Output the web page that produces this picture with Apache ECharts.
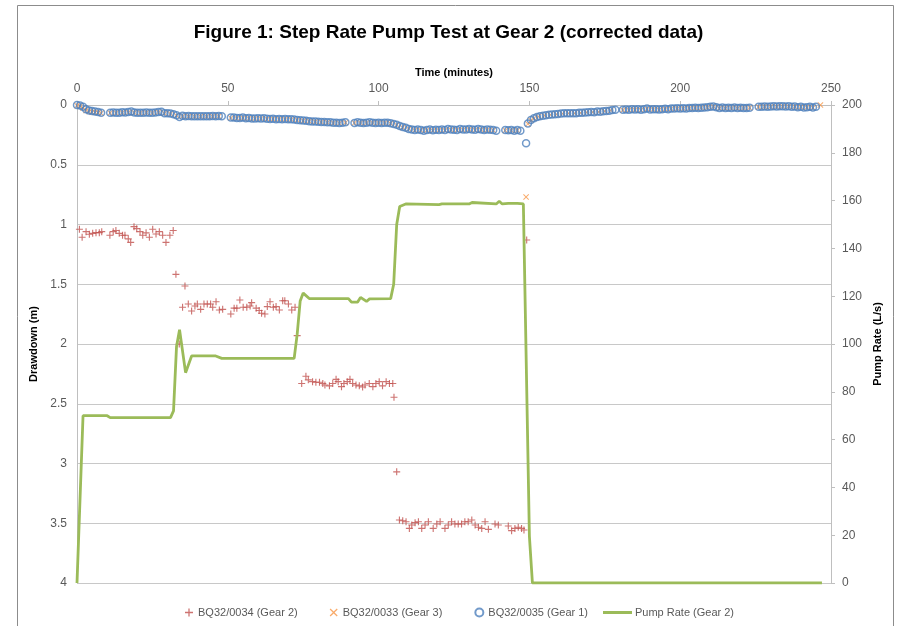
<!DOCTYPE html>
<html><head><meta charset="utf-8">
<script src="https://cdn.jsdelivr.net/npm/echarts@6/dist/echarts.min.js"></script>
<style>html,body{margin:0;padding:0;background:#fff}#c{width:897px;height:626px}</style>
</head><body><div id="c"></div>
<script>
// ---- data ----
const titleText = 'Figure 1: Step Rate Pump Test at Gear 2 (corrected data)';
const seriesNames = ['BQ32/0034 (Gear 2)', 'BQ32/0033 (Gear 3)', 'BQ32/0035 (Gear 1)', 'Pump Rate (Gear 2)'];

// BQ32/0034 (Gear 2) drawdown (m)
const gear2Time = [0.8,1.7,3,4.1,5.2,6.3,7.4,8.2,10.9,12,12.9,14,15.1,15.9,17,17.8,18.9,19.8,20.9,21.8,22.9,24,25.1,26.2,27.3,28.4,29.5,30.8,31.9,
  32.8,33.9,35.8,
  35,36.9,38,39.1,39.9,41,42.1,43.2,44.3,45,46.1,47.2,48.3,51,52.1,53,54,55.1,56.3,57.4,57.9,59.4,60.4,61.2,62.3,63.1,64,65.1,66,67.1,68.2,68.9,70.1,71.2,72.3,
  73,
  74.5,75.9,76.7,78.1,79.2,80.4,81.5,82.2,83.7,84.8,85.9,86.6,87.7,88.5,89.6,90.5,91.4,92.5,93.6,94.7,95.5,96.9,98.1,99.1,100.2,101.3,102.5,103.6,104.7,
  105.1,106,
  106.9,108,109.1,110.2,111,112.1,113.2,114.3,115.4,116.5,118.1,119.3,120.4,122,123.1,124.2,125.3,126.4,127.5,128.6,129.7,130.9,132,133.1,134.2,135.3,136.4,138.6,139.7,143,144.1,145.2,146.3,147.4,148.2,
  149.1];
const gear2Draw = [1.04,1.107,1.06,1.082,1.074,1.068,1.068,1.06,1.09,1.06,1.05,1.074,1.09,1.09,1.12,1.15,1.018,1.035,1.06,1.09,1.07,1.107,1.04,1.08,1.06,1.09,1.15,1.09,1.05,
  1.417,2.0,1.515,
  1.693,1.665,1.724,1.682,1.665,1.71,1.665,1.665,1.665,1.693,1.646,1.715,1.71,1.749,1.70,1.70,1.632,1.693,1.693,1.682,1.654,1.70,1.72,1.743,1.749,1.687,1.646,1.693,1.687,1.715,1.638,1.638,1.665,1.715,1.693,
  1.93,
  2.33,2.27,2.30,2.315,2.32,2.32,2.33,2.343,2.35,2.33,2.296,2.315,2.357,2.33,2.315,2.296,2.33,2.343,2.35,2.36,2.343,2.33,2.357,2.33,2.315,2.35,2.315,2.33,2.33,
  2.446,3.07,
  3.473,3.479,3.487,3.543,3.515,3.495,3.487,3.543,3.515,3.487,3.543,3.506,3.487,3.543,3.515,3.487,3.506,3.506,3.506,3.487,3.487,3.473,3.515,3.534,3.543,3.487,3.551,3.506,3.515,3.523,3.562,3.543,3.534,3.543,3.556,
  1.13];

// BQ32/0035 (Gear 1) drawdown (m)
const gear1Time = [0,1,2,3,4,5,6,7,8,
  11,12,13,14,15,16,17,18,19,20,21,22,23,24,25,26,27,28,29,30,31,32,33,34,35,36,37,38,39,40,41,42,43,44,45,46,47,48,
  51,52,53,54,55,56,57,58,59,60,61,62,63,64,65,66,67,68,69,70,71,72,73,74,75,76,77,78,79,80,81,82,83,84,85,86,87,88,89,
  92,93,94,95,96,97,98,99,100,101,102,103,104,105,106,107,108,109,110,111,112,113,114,115,116,117,118,119,120,121,122,123,124,125,126,127,128,129,130,131,132,133,134,135,136,137,138,139,
  142,143,144,145,146,147,148.9,
  149.5,150.5,151.5,152.5,153.5,154.5,155.5,156.5,157.5,158.5,159.5,160.5,161.5,162.5,163.5,164.5,165.5,166.5,167.5,168.5,169.5,170.5,171.5,172.5,173.5,174.5,175.5,176.5,177.5,178.5,
  181,182,183,184,185,186,187,188,189,190,191,192,193,194,195,196,197,198,199,200,201,202,203,204,205,206,207,208,209,210,211,212,213,214,215,216,217,218,219,220,221,222,223,
  226,227,228,229,230,231,232,233,234,235,236,237,238,239,240,241,242,243,244,245];
const gear1Draw = [0,0.005,0.015,0.035,0.045,0.05,0.055,0.058,0.065,
  0.064,0.062,0.064,0.064,0.06,0.062,0.058,0.055,0.062,0.064,0.064,0.064,0.062,0.064,0.064,0.062,0.058,0.056,0.068,0.07,0.072,0.078,0.085,0.1,0.09,0.095,0.092,0.094,0.095,0.095,0.094,0.095,0.095,0.094,0.093,0.094,0.092,0.094,
  0.105,0.105,0.108,0.108,0.105,0.11,0.108,0.112,0.112,0.11,0.112,0.11,0.115,0.118,0.115,0.12,0.118,0.12,0.118,0.12,0.12,0.122,0.125,0.128,0.13,0.132,0.135,0.138,0.138,0.14,0.142,0.142,0.145,0.145,0.148,0.148,0.15,0.148,0.145,
  0.15,0.145,0.148,0.15,0.148,0.145,0.148,0.15,0.148,0.15,0.148,0.148,0.152,0.158,0.165,0.175,0.185,0.19,0.2,0.205,0.21,0.205,0.21,0.215,0.21,0.205,0.212,0.208,0.21,0.205,0.21,0.2,0.205,0.208,0.21,0.2,0.205,0.205,0.2,0.205,0.208,0.2,0.205,0.21,0.205,0.208,0.21,0.215,
  0.21,0.212,0.21,0.215,0.21,0.215,0.32,
  0.155,0.125,0.11,0.1,0.095,0.09,0.085,0.082,0.08,0.078,0.075,0.072,0.07,0.07,0.068,0.07,0.068,0.065,0.065,0.062,0.06,0.058,0.06,0.055,0.056,0.052,0.05,0.048,0.042,0.04,
  0.04,0.038,0.04,0.035,0.038,0.035,0.04,0.035,0.03,0.038,0.035,0.035,0.038,0.035,0.032,0.035,0.03,0.03,0.028,0.03,0.028,0.03,0.025,0.025,0.022,0.025,0.022,0.02,0.018,0.015,0.012,0.018,0.025,0.02,0.025,0.022,0.025,0.02,0.025,0.022,0.025,0.025,0.022,
  0.015,0.015,0.012,0.015,0.012,0.01,0.012,0.01,0.01,0.012,0.01,0.015,0.012,0.018,0.015,0.02,0.018,0.015,0.02,0.015];

// BQ32/0033 (Gear 3) drawdown (m)
const gear3Time = [0,1,2,3,4,5,6,7,8,
  11,13,15,17,19,21,23,25,27,29,31,33,35,37,39,41,43,45,47,
  51,53,55,57,59,61,63,65,67,69,71,73,75,77,79,81,83,85,87,89,
  92,94,96,98,100,102,104,106,108,110,112,114,116,118,120,122,124,126,128,130,132,134,136,138,
  142,144,146,148.9,
  149.5,150.5,151.5,153,155,157,159,161,163,165,167,169,171,173,175,177,
  181,183,185,187,189,191,193,195,197,199,201,203,205,207,209,211,213,215,217,219,221,223,
  226,228,230,232,234,236,238,240,242,244,246.5];
const gear3Draw = [0.005,0.01,0.025,0.045,0.055,0.06,0.062,0.065,0.068,
  0.066,0.066,0.064,0.062,0.064,0.066,0.064,0.066,0.06,0.07,0.075,0.088,0.095,0.096,0.097,0.096,0.097,0.096,0.095,
  0.108,0.11,0.108,0.112,0.114,0.114,0.118,0.118,0.12,0.12,0.122,0.126,0.132,0.136,0.14,0.143,0.146,0.15,0.152,0.148,
  0.15,0.15,0.15,0.15,0.15,0.15,0.155,0.168,0.188,0.2,0.212,0.212,0.212,0.214,0.212,0.212,0.208,0.21,0.208,0.205,0.21,0.207,0.209,0.212,
  0.213,0.213,0.213,0.77,
  0.158,0.128,0.112,0.098,0.088,0.082,0.078,0.072,0.07,0.07,0.066,0.062,0.06,0.058,0.052,0.045,
  0.042,0.042,0.04,0.042,0.035,0.037,0.04,0.035,0.032,0.03,0.03,0.028,0.025,0.024,0.02,0.014,0.027,0.027,0.026,0.027,0.026,0.024,
  0.017,0.014,0.014,0.014,0.012,0.012,0.014,0.017,0.02,0.022,0.0];

// Pump Rate (Gear 2), L/s
const pumpTime = [0,2,10,11,31,32,33,34,36,38,46,48,72,73,74,75,77,90,91,93,94,96,97,104,105,106,107,109,120,121,130,131,139,140,141,143,146,148,150,151,247];
const pumpRate = [0,70,70,69.2,69.2,72,99,106,88,95,95,94,94,104,118,121.3,119,119,117.5,117.5,119.5,117.8,118.9,119,125,150,157.5,158.6,158.3,158.6,158.6,159.2,158.6,159.7,158.6,158.8,158.8,158.6,19.5,0,0];

// axis ticks
const timeMin = 0, timeMax = 250, timeStep = 50;
const drawMin = 0, drawMax = 4, drawStep = 0.5;
const rateMin = 0, rateMax = 200, rateStep = 20;

// ---- chart ----
const zip = (a, b) => a.map((v, i) => [v, b[i]]);
const plusPath = 'path://M4.2,0H5.8V4.2H10V5.8H5.8V10H4.2V5.8H0V4.2H4.2Z';
const crossPath = 'path://M0,1.1L1.1,0L5,3.9L8.9,0L10,1.1L6.1,5L10,8.9L8.9,10L5,6.1L1.1,10L0,8.9L3.9,5Z';
const txt = '#595959', gridC = '#C8C8C8', axisC = '#BFBFBF';
const FONT = '"Liberation Sans", Arial, sans-serif';

const chart = echarts.init(document.getElementById('c'), null, {renderer: 'canvas'});
chart.setOption({
  animation: false,
  backgroundColor: '#fff',
  textStyle: {fontFamily: FONT},
  title: {
    text: titleText, left: 'center', top: 18,
    textStyle: {fontFamily: FONT, fontWeight: 'bold', fontSize: 19, color: '#000'}
  },
  graphic: [{
    type: 'rect', silent: true, z: -10,
    shape: {x: 17.5, y: 5.5, width: 876, height: 660},
    style: {fill: 'none', stroke: '#8C8C8C', lineWidth: 1}
  }],
  grid: {left: 77, right: 66, top: 105, bottom: 43, containLabel: false},
  legend: [{
    data: seriesNames.slice(0, 3), left: 180, top: 602, itemWidth: 8, itemHeight: 8, itemGap: 32,
    textStyle: {fontSize: 11, color: txt, fontFamily: FONT}
  }, {
    data: [{name: seriesNames[3], icon: 'rect'}], left: 598, top: 602, itemWidth: 29, itemHeight: 3, itemGap: 3,
    textStyle: {fontSize: 11, color: txt, fontFamily: FONT, padding: [0, 0, 0, -2]}
  }],
  xAxis: {
    type: 'value', position: 'top', min: timeMin, max: timeMax, interval: timeStep,
    name: 'Time (minutes)', nameLocation: 'middle', nameGap: 27,
    nameTextStyle: {fontWeight: 'bold', fontSize: 11, color: '#000'},
    axisLine: {show: true, lineStyle: {color: axisC}},
    axisTick: {show: true, length: 4, lineStyle: {color: axisC}},
    axisLabel: {fontSize: 12, color: txt, margin: 10},
    splitLine: {show: false}
  },
  yAxis: [{
    type: 'value', inverse: true, min: drawMin, max: drawMax, interval: drawStep, position: 'left',
    name: 'Drawdown (m)', nameLocation: 'middle', nameGap: 29, nameRotate: 90,
    nameTextStyle: {fontWeight: 'bold', fontSize: 11, color: '#000'},
    axisLine: {show: true, lineStyle: {color: axisC}},
    axisTick: {show: false},
    axisLabel: {fontSize: 12, color: txt, margin: 10},
    splitLine: {show: true, lineStyle: {color: gridC, width: 1}}
  }, {
    type: 'value', min: rateMin, max: rateMax, interval: rateStep, position: 'right',
    name: 'Pump Rate (L/s)', nameLocation: 'middle', nameGap: 40, nameRotate: 90,
    nameTextStyle: {fontWeight: 'bold', fontSize: 11, color: '#000'},
    axisLine: {show: true, lineStyle: {color: axisC}},
    axisTick: {show: true, length: 4, lineStyle: {color: axisC}},
    axisLabel: {fontSize: 12, color: txt, margin: 11},
    splitLine: {show: false}
  }],
  series: [{
    name: seriesNames[0], type: 'scatter', yAxisIndex: 0,
    data: zip(gear2Time, gear2Draw), symbol: plusPath, symbolSize: 7,
    itemStyle: {color: '#C0504D'}, z: 3
  }, {
    name: seriesNames[1], type: 'scatter', yAxisIndex: 0,
    data: zip(gear3Time, gear3Draw), symbol: crossPath, symbolSize: 6,
    itemStyle: {color: '#F79646'}, z: 3
  }, {
    name: seriesNames[2], type: 'scatter', yAxisIndex: 0,
    data: zip(gear1Time, gear1Draw), symbol: 'circle', symbolSize: 7,
    itemStyle: {color: 'rgba(255,255,255,0)', borderColor: '#4F81BD', borderWidth: 1.5}, z: 4
  }, {
    name: seriesNames[3], type: 'line', yAxisIndex: 1,
    data: zip(pumpTime, pumpRate), symbol: 'none', showSymbol: false,
    lineStyle: {color: '#9BBB59', width: 2.8}, itemStyle: {color: '#9BBB59'}, z: 5
  }]
});
</script></body></html>
